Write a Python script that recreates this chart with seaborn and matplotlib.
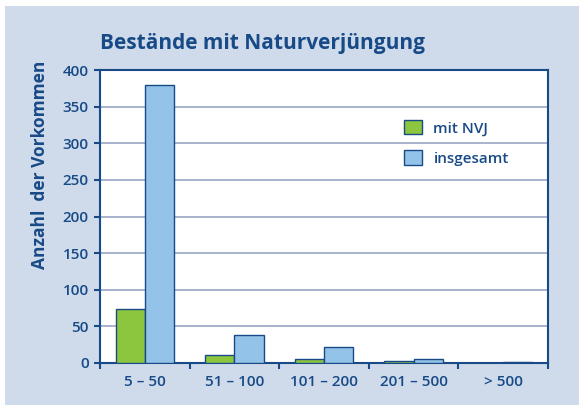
import matplotlib
matplotlib.use("Agg")
import matplotlib.pyplot as plt
import seaborn as sns
import pandas as pd
from matplotlib.patches import Rectangle

categories = ["5 – 50", "51 – 100", "101 – 200", "201 – 500", "> 500"]
mit_nvj = [74, 11, 6, 3, 0]
insgesamt = [380, 38, 22, 6, 1]
series_names = ["mit NVJ", "insgesamt"]
y_ticks = [0, 50, 100, 150, 200, 250, 300, 350, 400]

df = pd.DataFrame({
    "Kategorie": categories * 2,
    "Serie": [series_names[0]] * len(categories) + [series_names[1]] * len(categories),
    "Wert": mit_nvj + insgesamt,
})

sns.set_theme(style="white")
plt.rcParams['font.family'] = ['Open Sans', 'DejaVu Sans']

DARK = "#174a86"
BG = "#cfdbeb"
GREEN = "#8cc63f"
BLUE = "#94c3e9"
GRID = "#a3adca"

fig = plt.figure(figsize=(5.79, 4.05), dpi=100, facecolor="white")
fig.patches.append(Rectangle((5/579, 0), 1, 1 - 6/405, transform=fig.transFigure,
                             facecolor=BG, edgecolor="none", zorder=-10))
ax = fig.add_axes([100/579, 1 - 363/405, 448/579, 293/405])
ax.set_facecolor("white")

sns.barplot(data=df, x="Kategorie", y="Wert", hue="Serie", ax=ax,
            palette=[GREEN, BLUE], width=0.65, edgecolor=DARK, linewidth=1.0,
            saturation=1, zorder=3)

ax.set_ylim(0, 400)
ax.set_xlim(-0.5, len(categories) - 0.5)
ax.set_yticks(y_ticks)
ax.yaxis.grid(True, color=GRID, linewidth=1.3, zorder=0)
ax.set_axisbelow(True)

ax.set_xticks([i - 0.5 for i in range(len(categories) + 1)], minor=False)
ax.set_xticklabels([""] * (len(categories) + 1))
ax.set_xticks(range(len(categories)), minor=True)
ax.set_xticklabels(categories, minor=True)
ax.tick_params(axis="x", which="major", direction="out", length=4, width=1.5, color=DARK, bottom=True)
ax.tick_params(axis="x", which="minor", length=0, pad=9, labelsize=11, labelcolor=DARK)
ax.tick_params(axis="y", direction="out", length=4, width=1.5, color=DARK, left=True,
               labelsize=11, labelcolor=DARK, pad=4)
for lab in ax.get_xticklabels(minor=True) + ax.get_yticklabels():
    lab.set_fontweight("semibold")

for s in ax.spines.values():
    s.set_color(DARK)
    s.set_linewidth(1.5)

ax.set_xlabel("")
ax.set_ylabel("Anzahl  der Vorkommen", fontsize=12.5, fontweight="bold", color=DARK)
ax.yaxis.set_label_coords(-0.114, 0.676)

fig.text(100/579, 1 - 43/405, "Bestände mit Naturverjüngung", fontsize=15, fontweight="bold",
         color=DARK, ha="left", va="center")

leg = ax.legend(loc="upper left", bbox_to_anchor=(0.647, 0.877), frameon=False,
                fontsize=11, handlelength=1.2, handleheight=1.1, labelspacing=0.95,
                handletextpad=0.75)
for t in leg.get_texts():
    t.set_color(DARK)
    t.set_fontweight("semibold")

fig.savefig("out.png", dpi=100, facecolor=fig.get_facecolor())
